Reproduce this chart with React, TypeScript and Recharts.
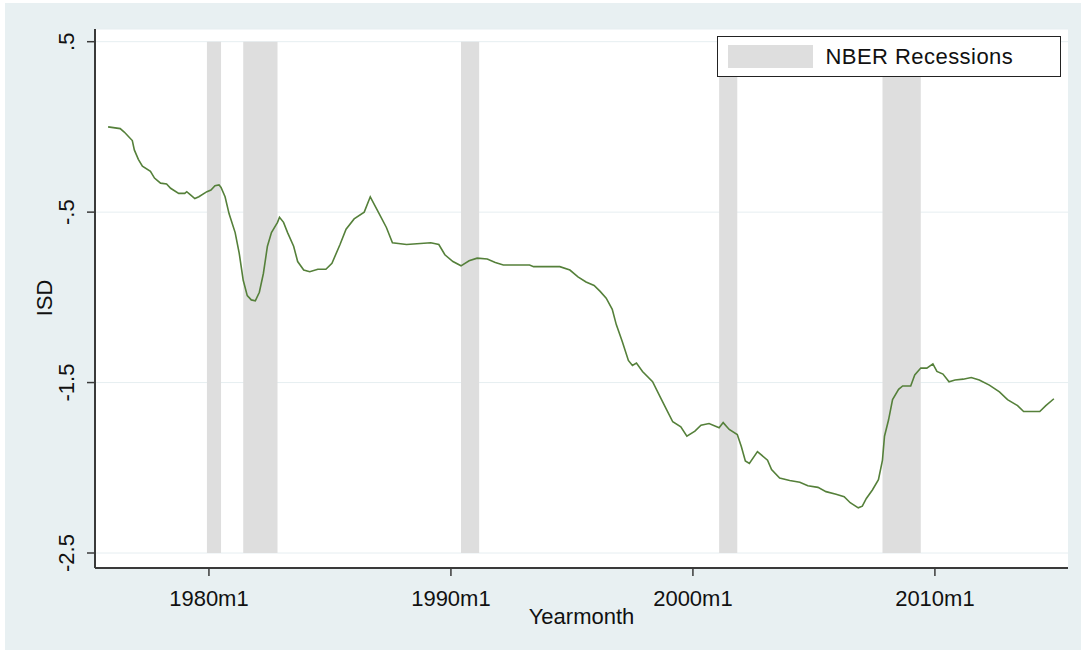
import React from 'react';
import {
  LineChart,
  Line,
  XAxis,
  YAxis,
  CartesianGrid,
  ReferenceArea,
  Legend
} from 'recharts';

// Stata-style year-month labels
const months = [
  '1975m11', '1976m5', '1976m7', '1976m11', '1976m12', '1977m2', '1977m4', '1977m8', '1977m10', '1978m1',
  '1978m4', '1978m6', '1978m10', '1979m1', '1979m2', '1979m4', '1979m6', '1979m8', '1979m12', '1980m2',
  '1980m4', '1980m6', '1980m7', '1980m9', '1980m11', '1981m2', '1981m4', '1981m6', '1981m8', '1981m10',
  '1981m12', '1982m2', '1982m4', '1982m6', '1982m8', '1982m11', '1982m12', '1983m2', '1983m4', '1983m7',
  '1983m9', '1983m12', '1984m3', '1984m7', '1984m11', '1985m2', '1985m6', '1985m9', '1986m1', '1986m6',
  '1986m9', '1987m1', '1987m5', '1987m8', '1988m3', '1989m3', '1989m7', '1989m10', '1990m2', '1990m6',
  '1990m10', '1991m2', '1991m7', '1991m11', '1992m3', '1993m4', '1993m6', '1994m7', '1994m12', '1995m4',
  '1995m8', '1995m12', '1996m3', '1996m6', '1996m9', '1996m11', '1997m2', '1997m5', '1997m7', '1997m9',
  '1997m12', '1998m5', '1998m9', '1998m12', '1999m3', '1999m7', '1999m10', '2000m2', '2000m5', '2000m9',
  '2001m2', '2001m4', '2001m7', '2001m11', '2002m1', '2002m3', '2002m5', '2002m9', '2003m2', '2003m4',
  '2003m8', '2004m1', '2004m6', '2004m10', '2005m3', '2005m7', '2005m12', '2006m4', '2006m7', '2006m11',
  '2007m1', '2007m3', '2007m6', '2007m9', '2007m11', '2007m12', '2008m2', '2008m4', '2008m7', '2008m9',
  '2009m1', '2009m3', '2009m6', '2009m9', '2009m12', '2010m2', '2010m5', '2010m8', '2010m11', '2011m3',
  '2011m7', '2011m11', '2012m4', '2012m9', '2013m1', '2013m6', '2013m9', '2014m5', '2014m8', '2014m12'
];

const isd = [
  0.0, -0.01, -0.03, -0.08, -0.135, -0.19, -0.23, -0.26, -0.3, -0.33,
  -0.335, -0.36, -0.39, -0.39, -0.38, -0.4, -0.42, -0.41, -0.38, -0.37,
  -0.345, -0.34, -0.355, -0.41, -0.51, -0.62, -0.74, -0.9, -0.99, -1.015,
  -1.02, -0.97, -0.86, -0.7, -0.62, -0.56, -0.53, -0.56, -0.62, -0.7,
  -0.79, -0.84, -0.85, -0.835, -0.835, -0.8, -0.69, -0.6, -0.54, -0.5,
  -0.41, -0.5, -0.59, -0.68, -0.69, -0.68, -0.69, -0.75, -0.79, -0.815,
  -0.785, -0.77, -0.775, -0.795, -0.81, -0.81, -0.82, -0.82, -0.84, -0.88,
  -0.91, -0.93, -0.965, -1.005, -1.07, -1.16, -1.26, -1.37, -1.4, -1.385,
  -1.435, -1.495, -1.59, -1.66, -1.73, -1.76, -1.815, -1.785, -1.75, -1.74,
  -1.765, -1.735, -1.775, -1.805, -1.875, -1.96, -1.975, -1.905, -1.955, -2.01,
  -2.06, -2.075, -2.085, -2.105, -2.115, -2.14, -2.155, -2.17, -2.205, -2.235,
  -2.225, -2.18, -2.13, -2.07, -1.955, -1.815, -1.72, -1.6, -1.54, -1.52,
  -1.52, -1.455, -1.415, -1.415, -1.39, -1.435, -1.45, -1.495, -1.485, -1.48,
  -1.47, -1.485, -1.515, -1.555, -1.6, -1.635, -1.67, -1.67, -1.635, -1.595
];

const recessionStart = ['1979m12', '1981m6', '1990m6', '2001m2', '2007m11'];
const recessionEnd = ['1980m7', '1982m11', '1991m3', '2001m11', '2009m6'];

const xTicks = ['1980m1', '1990m1', '2000m1', '2010m1'];
const yTicks = [-2.5, -1.5, -0.5, 0.5];

// months since 1960m1, like Stata's %tm
const tm = (s: string) => {
  const [y, m] = s.split('m').map(Number);
  return (y - 1960) * 12 + m - 1;
};
const fmtTm = (t: number) => `${1960 + Math.floor(t / 12)}m${(t % 12) + 1}`;
const fmtY = (v: number) => String(v).replace('0.', '.');

const data = months.map((m, i) => ({ t: tm(m), isd: isd[i] }));

const FONT = '"Liberation Sans", Arial, sans-serif';
const TEXT = '#111';
const W = 1076;
const H = 647;

const YTick = ({ y, payload }: any) => (
  <text
    x={69}
    y={y}
    transform={`rotate(-90 69 ${y})`}
    textAnchor="middle"
    fontSize={22}
    fontFamily={FONT}
    fill={TEXT}
  >
    {fmtY(payload.value)}
  </text>
);

const XTick = ({ x, payload }: any) => (
  <text x={x} y={603} textAnchor="middle" fontSize={22} fontFamily={FONT} fill={TEXT}>
    {fmtTm(payload.value)}
  </text>
);

const renderLegend = () => (
  <div
    style={{
      position: 'relative',
      boxSizing: 'border-box',
      width: 344,
      height: 41,
      border: '1.5px solid #222',
      background: '#fff',
      fontFamily: FONT
    }}
  >
    <div style={{ position: 'absolute', left: 9.5, top: 7.5, width: 85, height: 23, background: '#DEDEDE' }} />
    <span
      style={{
        position: 'absolute',
        left: 107.5,
        top: 8.5,
        fontSize: 22,
        lineHeight: '22px',
        letterSpacing: '0.45px',
        color: TEXT,
        whiteSpace: 'nowrap'
      }}
    >
      NBER Recessions
    </span>
  </div>
);

const App: React.FC = () => {
  return (
    <div style={{ position: 'absolute', left: 0, top: 0, width: 1081, height: 650, background: '#fff' }}>
      <div style={{ position: 'absolute', left: 5, top: 3, width: W, height: H, background: '#E8F0F2' }}>
        <LineChart width={W} height={H} data={data} margin={{ top: 26, right: 13, left: 0, bottom: 0 }}>
          <CartesianGrid horizontal vertical={false} stroke="#E6EEF1" fill="#fff" />
          {recessionStart.map((s, i) => (
            <ReferenceArea
              key={s}
              x1={tm(s)}
              x2={tm(recessionEnd[i])}
              y1={-2.5}
              y2={0.5}
              fill="#DEDEDE"
              fillOpacity={1}
              stroke="none"
            />
          ))}
          <XAxis
            dataKey="t"
            type="number"
            domain={[183.5, 666]}
            allowDataOverflow
            ticks={xTicks.map(tm)}
            height={82}
            tickSize={8}
            axisLine={{ stroke: '#3a3a3a', strokeWidth: 2 }}
            tickLine={{ stroke: '#3a3a3a', strokeWidth: 1.5 }}
            tick={<XTick />}
            label={{
              content: () => (
                <text x={576.5} y={621} textAnchor="middle" fontSize={22} fontFamily={FONT} fill={TEXT}>
                  Yearmonth
                </text>
              )
            }}
          />
          <YAxis
            type="number"
            domain={[-2.588, 0.5745]}
            allowDataOverflow
            ticks={yTicks}
            width={90}
            tickSize={8}
            axisLine={{ stroke: '#3a3a3a', strokeWidth: 2 }}
            tickLine={{ stroke: '#3a3a3a', strokeWidth: 1.5 }}
            tick={<YTick />}
            label={{
              content: () => (
                <text
                  x={47}
                  y={295}
                  transform="rotate(-90 47 295)"
                  textAnchor="middle"
                  fontSize={22}
                  fontFamily={FONT}
                  fill={TEXT}
                >
                  ISD
                </text>
              )
            }}
          />
          <Legend
            layout="vertical"
            align="center"
            verticalAlign="middle"
            wrapperStyle={{ position: 'absolute', left: 712, top: 33, width: 344, height: 41 }}
            content={renderLegend}
          />
          <Line
            type="linear"
            dataKey="isd"
            stroke="#55803A"
            strokeWidth={1.6}
            dot={false}
            isAnimationActive={false}
          />
        </LineChart>
      </div>
    </div>
  );
};

export default App;
